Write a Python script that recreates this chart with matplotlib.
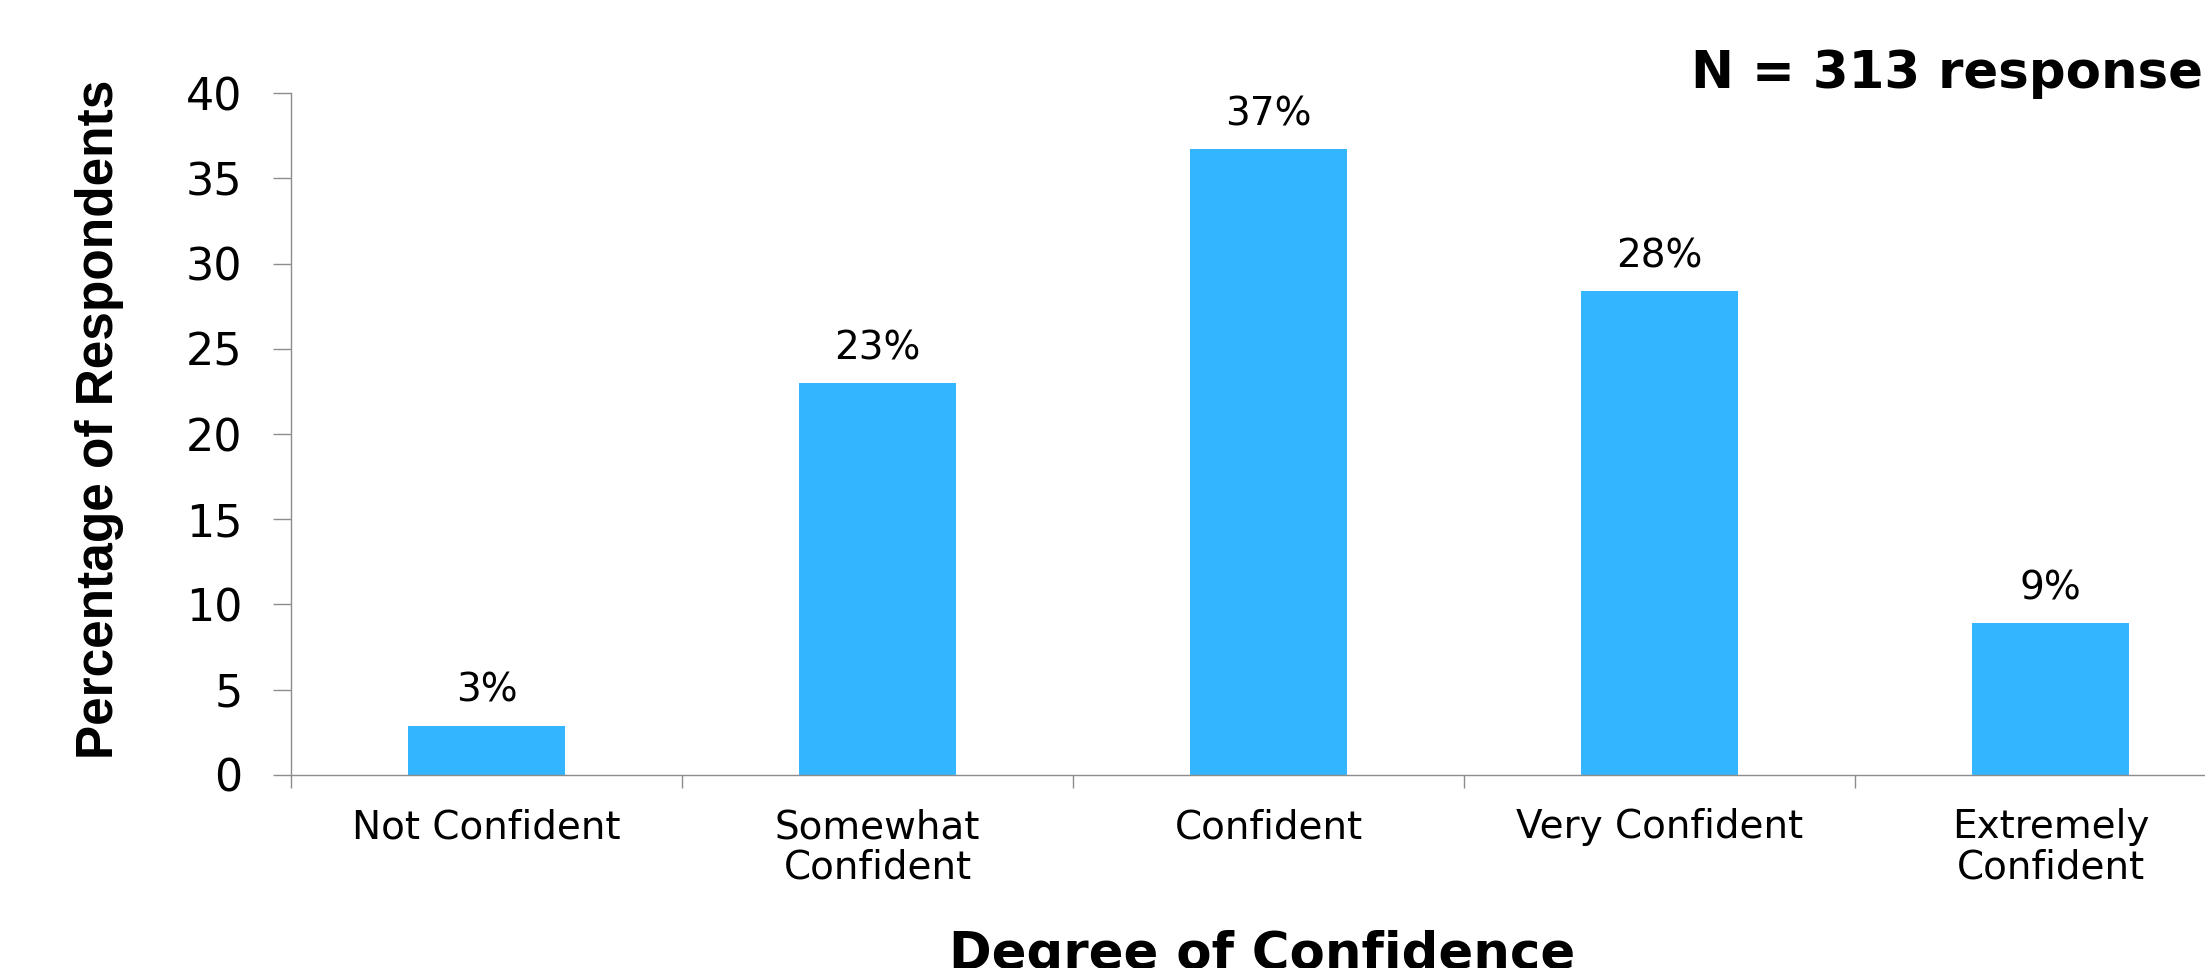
import numpy as np
import matplotlib
matplotlib.use("Agg")
import matplotlib.pyplot as plt

plt.rcParams['font.family'] = ['DejaVu Sans']

# Date sondaj (procent din 313 raspunsuri)
categories = ["Not Confident", "Somewhat\nConfident", "Confident", "Very Confident", "Extremely\nConfident"]
percentages = [2.9, 23.0, 36.7, 28.4, 8.9]
y_ticks = [0, 5, 10, 15, 20, 25, 30, 35, 40]
n_text = "N = 313 responses"

bar_color = "#33B5FF"
axis_color = "#8C8C8C"

fig = plt.figure(figsize=(22.05, 9.68), dpi=100)
# axa trece peste marginea din dreapta, ca in slide-ul original
ax = fig.add_axes([0.1320, 0.1994, 0.8866, 0.7045])

x = np.arange(len(categories))
bars = ax.bar(x, percentages, width=0.4, color=bar_color, zorder=2)

# etichete cu procentul deasupra fiecarei bare
for xi, v in zip(x, percentages):
    ax.annotate(f"{round(v)}%", xy=(xi, v), xytext=(0, 17), textcoords="offset points",
                ha="center", va="baseline", fontsize=28)

ax.set_xlim(-0.5, len(categories) - 0.5)
ax.set_ylim(0, 40)
ax.set_yticks(y_ticks)
ax.set_yticklabels([str(t) for t in y_ticks], fontsize=32)

# etichetele la centru, liniutele intre categorii
ax.set_xticks(x)
ax.set_xticklabels(categories, fontsize=28, linespacing=1.07)
ax.set_xticks(np.arange(len(categories) + 1) - 0.5, minor=True)
ax.tick_params(axis="x", which="major", length=0, pad=24)
ax.tick_params(axis="x", which="minor", length=9.5, width=1, color=axis_color, direction="out")
ax.tick_params(axis="y", length=13, width=1, color=axis_color, pad=22)

for side in ["top", "right"]:
    ax.spines[side].set_visible(False)
for side in ["left", "bottom"]:
    ax.spines[side].set_color(axis_color)
    ax.spines[side].set_linewidth(1)

fig.text(0.0449, 0.567, "Percentage of Respondents", rotation=90, ha="center", va="center",
         fontsize=37, fontweight="bold", family="Liberation Sans")
fig.text(0.5723, -0.001, "Degree of Confidence", ha="center", va="baseline",
         fontsize=37, fontweight="bold")
fig.text(0.7669, 0.909, n_text, ha="left", va="baseline", fontsize=37, fontweight="bold")

plt.savefig("out.png", dpi=100)
